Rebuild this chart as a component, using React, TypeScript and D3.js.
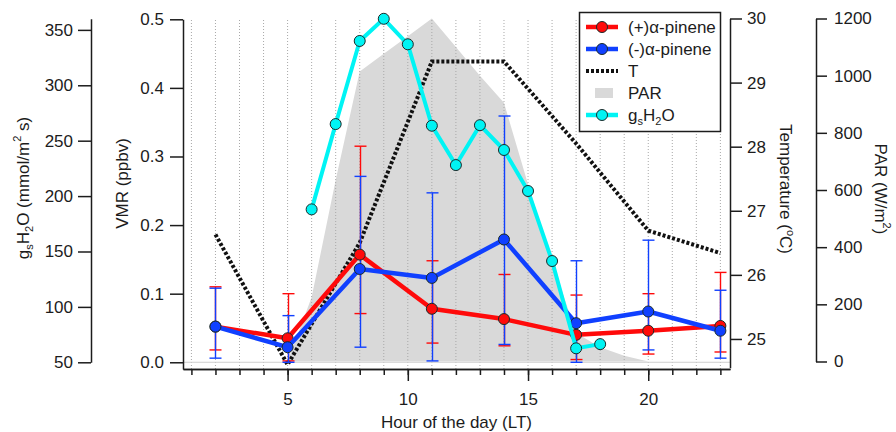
import React, { useEffect, useRef } from "react";
import * as d3 from "d3";

const WIDTH = 896;
const HEIGHT = 432;
const FONT = "'Liberation Sans', Arial, sans-serif";

// VMR of the two enantiomers (ppbv), with error bar ends
const vmrHours = [2, 5, 8, 11, 14, 17, 20, 23];
const plusMean = [0.052, 0.035, 0.157, 0.078, 0.063, 0.04, 0.046, 0.053];
const plusUpper = [0.11, 0.1, 0.315, 0.148, 0.128, 0.098, 0.1, 0.131];
const plusLower = [0.018, 0.002, 0.071, 0.028, 0.024, 0.004, 0.012, 0.015];
const minusMean = [0.052, 0.022, 0.136, 0.123, 0.179, 0.057, 0.074, 0.046];
const minusUpper = [0.108, 0.068, 0.271, 0.247, 0.359, 0.148, 0.178, 0.105];
const minusLower = [0.006, 0.0, 0.022, 0.002, 0.026, 0.0, 0.018, 0.006];

// stomatal conductance gsH2O (mmol/m2 s)
const gsHours = [6, 7, 8, 9, 10, 11, 12, 13, 14, 15, 16, 17, 18];
const gsValues = [188, 265, 340, 360, 337, 263.5, 228, 264, 241.6, 204.6, 141.4, 62.6, 66.4];

// temperature (°C)
const tHours = [2, 5, 8, 11, 14, 17, 20, 23];
const tValues = [26.63, 24.6, 26.5, 29.33, 29.33, 28.05, 26.69, 26.34];

// PAR (W/m2)
const parHours = [5, 6, 7, 8, 9, 10, 11, 12, 13, 14, 15, 16, 17, 18, 19, 20];
const parValues = [0, 225, 635, 1015, 1077, 1138, 1200, 1100, 1000, 905, 620, 350, 100, 50, 20, 0];

const vmrTicks = [0, 0.1, 0.2, 0.3, 0.4, 0.5];
const gsTicks = [50, 100, 150, 200, 250, 300, 350];
const tempTicks = [25, 26, 27, 28, 29, 30];
const parTicks = [0, 200, 400, 600, 800, 1000, 1200];
const hourTicks = [5, 10, 15, 20];

const RED = "#ff0a0a";
const BLUE = "#1040ff";
const CYAN = "#00f4f4";
const AXIS = "#1c1c1c";

const App = () => {
  const ref = useRef<SVGSVGElement | null>(null);

  useEffect(() => {
    const svg = d3.select(ref.current);
    svg.selectAll("*").remove();

    const x = d3.scaleLinear().domain([0.65, 23.4]).range([183, 730]);
    const yV = d3.scaleLinear().domain([-0.0098, 0.5]).range([369, 19.3]);
    const yG = d3.scaleLinear().domain([50, 360]).range([362.3, 18.8]);
    const yT = d3.scaleLinear().domain([24.55, 30]).range([367.8, 18.5]);
    const yP = d3.scaleLinear().domain([0, 1200]).range([361.5, 18.5]);

    // PAR shaded area
    const area = d3
      .area<number>()
      .x((d, i) => x(parHours[i]))
      .y0(yP(0))
      .y1((d) => yP(d));
    svg.append("path").datum(parValues).attr("d", area).attr("fill", "#d9d9d9");

    // dotted hour grid
    svg
      .append("g")
      .selectAll("line")
      .data(d3.range(1, 24))
      .join("line")
      .attr("x1", (d) => x(d))
      .attr("x2", (d) => x(d))
      .attr("y1", 20)
      .attr("y2", 369)
      .attr("stroke", "#a8a8a8")
      .attr("stroke-width", 1)
      .attr("stroke-dasharray", "1,2");

    svg
      .append("line")
      .attr("x1", 183)
      .attr("x2", 730)
      .attr("y1", yV(0))
      .attr("y2", yV(0))
      .attr("stroke", "#cfcfcf")
      .attr("stroke-width", 1);

    // temperature
    const tLine = d3
      .line<number>()
      .x((d, i) => x(tHours[i]))
      .y((d) => yT(d));
    svg
      .append("path")
      .datum(tValues)
      .attr("d", tLine)
      .attr("fill", "none")
      .attr("stroke", "#111")
      .attr("stroke-width", 4)
      .attr("stroke-dasharray", "3,2");

    // error bars
    const drawErr = (upper: number[], lower: number[], color: string) => {
      const g = svg.append("g").attr("stroke", color).attr("stroke-width", 1.4);
      vmrHours.forEach((h, i) => {
        const cx = Math.round(x(h)) + 0.5;
        g.append("line").attr("x1", cx).attr("x2", cx).attr("y1", yV(upper[i])).attr("y2", yV(lower[i]));
        g.append("line").attr("x1", cx - 6).attr("x2", cx + 6).attr("y1", yV(upper[i])).attr("y2", yV(upper[i]));
        g.append("line").attr("x1", cx - 6).attr("x2", cx + 6).attr("y1", yV(lower[i])).attr("y2", yV(lower[i]));
      });
    };
    drawErr(plusUpper, plusLower, RED);
    drawErr(minusUpper, minusLower, BLUE);

    const drawSeries = (
      hours: number[],
      values: number[],
      y: d3.ScaleLinear<number, number>,
      color: string,
      width: number
    ) => {
      const line = d3
        .line<number>()
        .x((d, i) => x(hours[i]))
        .y((d) => y(d));
      svg
        .append("path")
        .datum(values)
        .attr("d", line)
        .attr("fill", "none")
        .attr("stroke", color)
        .attr("stroke-width", width)
        .attr("stroke-linejoin", "round");
      svg
        .append("g")
        .selectAll("circle")
        .data(values)
        .join("circle")
        .attr("cx", (d, i) => x(hours[i]))
        .attr("cy", (d) => y(d))
        .attr("r", 5.5)
        .attr("fill", color)
        .attr("stroke", "#1a2a2a")
        .attr("stroke-width", 1);
    };
    drawSeries(vmrHours, plusMean, yV, RED, 4.5);
    drawSeries(vmrHours, minusMean, yV, BLUE, 4.5);
    drawSeries(gsHours, gsValues, yG, CYAN, 4);

    // axes
    const styleAxis = (g: any) => {
      g.attr("font-size", 17).attr("font-family", FONT);
      g.selectAll("text").attr("fill", AXIS);
      g.selectAll("path,line").attr("stroke", AXIS).attr("stroke-width", 1.5);
    };
    const intFmt = d3.format("d");

    svg
      .append("g")
      .attr("transform", "translate(183,0)")
      .call(d3.axisLeft(yV).tickValues(vmrTicks).tickFormat(d3.format(".1f")).tickSize(13).tickSizeOuter(0).tickPadding(6))
      .call(styleAxis);

    svg
      .append("g")
      .attr("transform", "translate(91,0)")
      .call(d3.axisLeft(yG).tickValues(gsTicks).tickFormat(intFmt).tickSize(13).tickSizeOuter(0).tickPadding(5))
      .call(styleAxis);

    svg
      .append("g")
      .attr("transform", "translate(730,0)")
      .call(d3.axisRight(yT).tickValues(tempTicks).tickFormat(intFmt).tickSize(12).tickSizeOuter(0).tickPadding(5))
      .call(styleAxis);

    svg
      .append("g")
      .attr("transform", "translate(816,0)")
      .call(d3.axisRight(yP).tickValues(parTicks).tickFormat(intFmt).tickSize(11).tickSizeOuter(0).tickPadding(7))
      .call(styleAxis);

    svg
      .append("g")
      .attr("transform", "translate(0,369)")
      .call(d3.axisBottom(x).tickValues(d3.range(1, 24)).tickFormat(() => "").tickSize(6).tickSizeOuter(0))
      .call(styleAxis);

    svg
      .append("g")
      .attr("transform", "translate(0,369)")
      .call(d3.axisBottom(x).tickValues(hourTicks).tickFormat(intFmt).tickSize(12).tickSizeOuter(0).tickPadding(12))
      .call(styleAxis);

    // axis titles
    const title = (tx: number, ty: number, rot: number) =>
      svg
        .append("text")
        .attr("transform", `translate(${tx},${ty}) rotate(${rot})`)
        .attr("text-anchor", "middle")
        .attr("font-family", FONT)
        .attr("font-size", 17)
        .attr("fill", AXIS);

    title(456.5, 428, 0).text("Hour of the day (LT)");
    title(128, 183.5, -90).text("VMR (ppbv)");

    const gs = title(28.5, 188, -90);
    gs.append("tspan").text("g");
    gs.append("tspan").attr("font-size", 11).attr("dy", 4).text("s");
    gs.append("tspan").attr("dy", -4).text("H");
    gs.append("tspan").attr("font-size", 11).attr("dy", 4).text("2");
    gs.append("tspan").attr("dy", -4).text("O (mmol/m");
    gs.append("tspan").attr("font-size", 11).attr("dy", -8).text("2");
    gs.append("tspan").attr("dy", 8).text(" s)");

    const tt = title(780, 189, 90);
    tt.append("tspan").text("Temperature (");
    tt.append("tspan").attr("font-size", 11).attr("dy", -7).text("o");
    tt.append("tspan").attr("dy", 7).text("C)");

    const pt = title(875, 189, 90);
    pt.append("tspan").text("PAR (W/m");
    pt.append("tspan").attr("font-size", 11).attr("dy", -8).text("2");
    pt.append("tspan").attr("dy", 8).text(")");

    // legend
    const lg = svg.append("g").attr("font-family", FONT).attr("font-size", 17);
    lg.append("rect")
      .attr("x", 579.5)
      .attr("y", 12.5)
      .attr("width", 141)
      .attr("height", 119)
      .attr("fill", "#fff")
      .attr("stroke", AXIS)
      .attr("stroke-width", 1.5);

    const rows = [27, 49, 71, 93, 115];
    const lineItem = (ry: number, color: string) => {
      lg.append("line").attr("x1", 586).attr("x2", 618).attr("y1", ry).attr("y2", ry).attr("stroke", color).attr("stroke-width", 4.5);
      lg.append("circle").attr("cx", 602).attr("cy", ry).attr("r", 5.5).attr("fill", color).attr("stroke", "#1a2a2a");
    };
    lineItem(rows[0], RED);
    lineItem(rows[1], BLUE);
    lg.append("line")
      .attr("x1", 586)
      .attr("x2", 618)
      .attr("y1", rows[2])
      .attr("y2", rows[2])
      .attr("stroke", "#111")
      .attr("stroke-width", 4)
      .attr("stroke-dasharray", "3,2");
    lg.append("rect").attr("x", 595).attr("y", rows[3] - 5).attr("width", 18).attr("height", 10).attr("fill", "#d9d9d9");
    lineItem(rows[4], CYAN);

    const label = (ry: number) => lg.append("text").attr("x", 628).attr("y", ry + 6).attr("fill", AXIS);
    label(rows[0]).text("(+)α-pinene");
    label(rows[1]).text("(-)α-pinene");
    label(rows[2]).text("T");
    label(rows[3]).text("PAR");
    const gl = label(rows[4]);
    gl.append("tspan").text("g");
    gl.append("tspan").attr("font-size", 11).attr("dy", 4).text("s");
    gl.append("tspan").attr("dy", -4).text("H");
    gl.append("tspan").attr("font-size", 11).attr("dy", 4).text("2");
    gl.append("tspan").attr("dy", -4).text("O");
  }, []);

  return (
    <svg
      ref={ref}
      width={WIDTH}
      height={HEIGHT}
      style={{ position: "absolute", left: 0, top: 0, background: "#fff" }}
    />
  );
};

export default App;
